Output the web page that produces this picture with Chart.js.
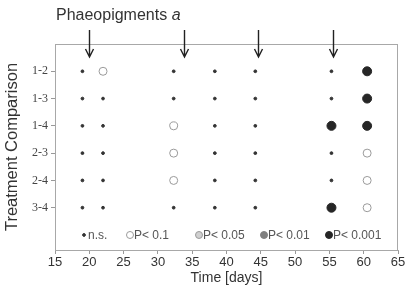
<!DOCTYPE html>
<html>
<head>
<meta charset="utf-8">
<script src="https://cdn.jsdelivr.net/npm/chart.js@4/dist/chart.umd.min.js"></script>
<style>
  html, body { margin: 0; padding: 0; background: #fff; }
  #wrap { width: 408px; height: 298px; }
</style>
</head>
<body>
<div id="wrap"><canvas id="c"></canvas></div>
<script>
// sampling days and the pairwise comparisons
const days = [19, 22, 32.3, 38.3, 44.2, 55.3, 60.5];
const comparisons = ["1-2", "1-3", "1-4", "2-3", "2-4", "3-4"];
const levels = ["n.s.", "P< 0.1", "P< 0.05", "P< 0.01", "P< 0.001"];

// significance level per day (index into levels), one array per comparison
const sig12 = [0, 1, 0, 0, 0, 0, 4];
const sig13 = [0, 0, 0, 0, 0, 0, 4];
const sig14 = [0, 0, 1, 0, 0, 4, 4];
const sig23 = [0, 0, 1, 0, 0, 0, 1];
const sig24 = [0, 0, 1, 0, 0, 0, 1];
const sig34 = [0, 0, 0, 0, 0, 4, 1];
const sigRows = [sig12, sig13, sig14, sig23, sig24, sig34];

// days marked with arrows above the plot
const arrowDays = [20, 33.8, 44.6, 55.5];
const xTicks = [15, 20, 25, 30, 35, 40, 45, 50, 55, 60, 65];

const styles = [
  { r: 1.4, fill: "#333", stroke: "#333" },
  { r: 4, fill: "rgba(0,0,0,0)", stroke: "#9a9a9a" },
  { r: 4, fill: "#d0d0d0", stroke: "#9a9a9a" },
  { r: 4.5, fill: "#808080", stroke: "#808080" },
  { r: 4.5, fill: "#262626", stroke: "#262626" }
];

const datasets = levels.map((lab, li) => {
  const pts = [];
  sigRows.forEach((row, ri) => {
    row.forEach((s, di) => { if (s === li) pts.push({ x: days[di], y: ri }); });
  });
  return {
    label: lab, data: pts,
    pointStyle: "circle",
    pointRadius: styles[li].r,
    pointHoverRadius: styles[li].r,
    backgroundColor: styles[li].fill,
    borderColor: styles[li].stroke,
    borderWidth: 1
  };
});

const sans = "'Liberation Sans', Arial, sans-serif";

const decor = {
  id: "decor",
  afterDraw(chart) {
    const ctx = chart.ctx, a = chart.chartArea;
    const xs = chart.scales.x, ys = chart.scales.y;
    ctx.save();
    // frame
    ctx.strokeStyle = "#a8a8a8";
    ctx.lineWidth = 1;
    ctx.strokeRect(a.left + 0.5, a.top + 0.5, a.right - a.left - 1, a.bottom - a.top);

    // title
    ctx.fillStyle = "#333";
    ctx.textBaseline = "alphabetic";
    ctx.textAlign = "left";
    ctx.font = "16px " + sans;
    const t = "Phaeopigments ";
    ctx.fillText(t, 56, 20);
    const w = ctx.measureText(t).width;
    ctx.font = "italic 16px " + sans;
    ctx.fillText("a", 56 + w, 20);

    // arrows
    ctx.strokeStyle = "#222";
    ctx.lineWidth = 1.4;
    arrowDays.forEach(d => {
      const x = Math.round(xs.getPixelForValue(d)) + 0.5;
      const y0 = 30, y1 = a.top + 13;
      ctx.beginPath();
      ctx.moveTo(x, y0); ctx.lineTo(x, y1);
      ctx.moveTo(x - 4, y1 - 8); ctx.lineTo(x, y1); ctx.lineTo(x + 4, y1 - 8);
      ctx.stroke();
    });

    // legend inside plot
    const ly = ys.getPixelForValue(6);
    const offs = [29, 75, 144, 209, 274];
    ctx.font = "12px " + sans;
    ctx.textBaseline = "middle";
    levels.forEach((lab, i) => {
      const st = styles[i];
      const x = a.left + offs[i];
      const r = i === 0 ? 1.4 : 3.5;
      ctx.beginPath();
      ctx.arc(x, ly, r, 0, Math.PI * 2);
      ctx.fillStyle = st.fill;
      ctx.fill();
      ctx.strokeStyle = st.stroke;
      ctx.lineWidth = 1;
      ctx.stroke();
      ctx.fillStyle = "#555";
      ctx.fillText(lab, x + 4, ly + 0.5);
    });
    ctx.restore();
  }
};

new Chart(document.getElementById("c"), {
  type: "scatter",
  data: { datasets },
  options: {
    responsive: true,
    maintainAspectRatio: false,
    animation: false,
    layout: { padding: { top: 44, right: 10, left: 0, bottom: 0 } },
    plugins: { legend: { display: false }, tooltip: { enabled: false } },
    scales: {
      x: {
        type: "linear", min: 15, max: 65,
        afterBuildTicks: s => { s.ticks = xTicks.map(v => ({ value: v })); },
        afterFit: s => { s.height = 48; },
        grid: { drawOnChartArea: false, drawTicks: true, tickLength: 4, color: "#999" },
        border: { display: true, color: "#a8a8a8" },
        ticks: { color: "#333", font: { family: sans, size: 13 }, padding: 1, maxRotation: 0 },
        title: { display: true, text: "Time [days]", color: "#333", font: { family: sans, size: 14 }, padding: { top: 0, bottom: 11 } }
      },
      y: {
        type: "linear", min: -1, max: 6.55, reverse: true,
        afterBuildTicks: s => { s.ticks = comparisons.map((c, i) => ({ value: i })); },
        afterFit: s => { s.width = 55; },
        grid: { drawOnChartArea: false, drawTicks: true, tickLength: 4, color: "#999" },
        border: { display: true, color: "#a8a8a8" },
        ticks: {
          color: "#444", padding: 3,
          font: { family: "'Liberation Serif', 'Times New Roman', serif", size: 12 },
          callback: v => comparisons[v]
        },
        title: { display: true, text: "Treatment Comparison", color: "#333", font: { family: sans, size: 16.5 }, padding: { top: 3, bottom: 0 } }
      }
    }
  },
  plugins: [decor]
});
</script>
</body>
</html>
